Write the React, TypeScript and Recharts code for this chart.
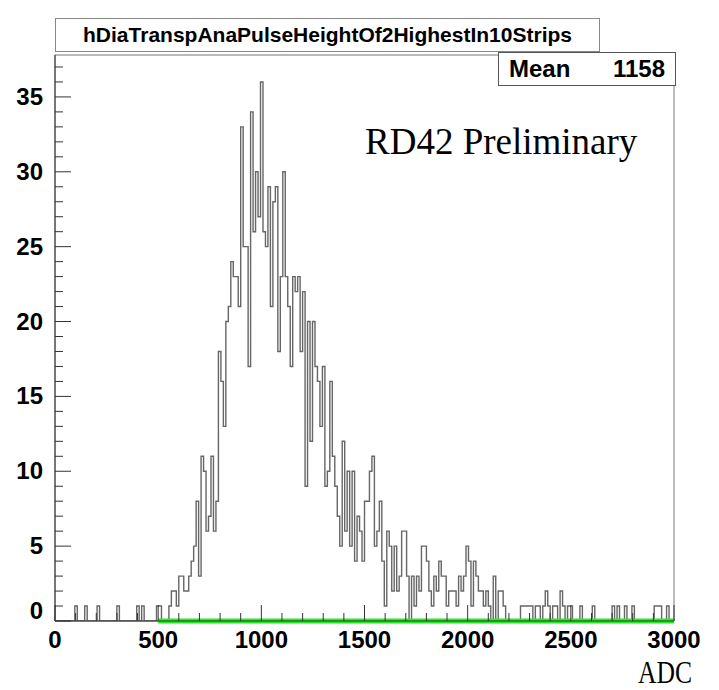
import React from "react";
import { ComposedChart, Line, XAxis, YAxis, ReferenceLine, ReferenceArea } from "recharts";

// histogram: 250 bins of 12 ADC counts from 0 to 3000
const binWidth = 12;
const binCounts = [
  0, 0, 0, 0, 0, 0, 0, 0, 1, 0,
  0, 0, 1, 0, 0, 0, 0, 1, 0, 0,
  0, 0, 0, 0, 0, 1, 0, 0, 0, 0,
  0, 0, 0, 1, 0, 1, 0, 0, 0, 0,
  0, 1, 1, 0, 0, 0, 1, 2, 2, 1,
  3, 3, 2, 2, 3, 4, 5, 8, 3, 11,
  10, 6, 7, 11, 6, 8, 18, 16, 13, 20,
  21, 24, 23, 23, 21, 33, 25, 25, 17, 34,
  26, 30, 27, 36, 26, 25, 29, 21, 28, 29,
  18, 23, 30, 23, 21, 17, 23, 22, 23, 18,
  22, 9, 20, 12, 20, 17, 16, 13, 17, 9,
  10, 16, 11, 9, 7, 5, 12, 6, 10, 5,
  10, 4, 7, 6, 4, 8, 8, 10, 11, 5,
  6, 8, 4, 1, 6, 5, 2, 5, 2, 3,
  6, 6, 3, 0, 3, 1, 3, 2, 5, 5,
  4, 2, 1, 3, 2, 4, 3, 3, 1, 2,
  2, 2, 1, 3, 2, 3, 5, 4, 1, 4,
  3, 2, 2, 1, 2, 1, 0, 3, 0, 2,
  2, 1, 0, 0, 0, 0, 0, 0, 1, 1,
  1, 1, 1, 0, 1, 1, 0, 1, 2, 1,
  0, 1, 1, 0, 2, 1, 0, 1, 1, 0,
  0, 0, 1, 0, 0, 0, 0, 1, 0, 0,
  0, 0, 0, 0, 0, 1, 0, 1, 0, 0,
  1, 0, 0, 1, 0, 0, 0, 0, 0, 0,
  0, 0, 1, 1, 1, 0, 0, 1, 0, 0,
];

const xRange = [0, 3000];
const yMax = 37.8;
const xMajorTicks = [0, 500, 1000, 1500, 2000, 2500, 3000];
const yMajorTicks = [0, 5, 10, 15, 20, 25, 30, 35];
const xAllTicks = Array.from({ length: 31 }, (_, i) => i * 100);
const yAllTicks = Array.from({ length: 38 }, (_, i) => i);
const fitRange = [500, 3000];

const histData = binCounts.map((c, i) => ({ adc: i * binWidth, count: c }));
histData.push({ adc: xRange[1], count: binCounts[binCounts.length - 1] });

const labelFont = '"Liberation Sans", Arial, sans-serif';
const serif = '"Liberation Serif", "Times New Roman", serif';

function XTick({ x, y, payload }: any) {
  const major = xMajorTicks.includes(payload.value);
  return (
    <g>
      <line x1={x} x2={x} y1={y} y2={y - (major ? 16 : 8)} stroke="#333" />
      {major && (
        <text x={x} y={y + 27} textAnchor="middle" fontFamily={labelFont} fontWeight="bold" fontSize={24} fill="#000">
          {payload.value}
        </text>
      )}
    </g>
  );
}

function YTick({ x, y, payload }: any) {
  const major = yMajorTicks.includes(payload.value);
  return (
    <g>
      <line x1={x} x2={x + (major ? 16 : 8)} y1={y} y2={y} stroke="#333" />
      {major && (
        <text x={x - 12} y={payload.value === 0 ? y - 2 : y + 8} textAnchor="end" fontFamily={labelFont} fontWeight="bold" fontSize={24} fill="#000">
          {payload.value}
        </text>
      )}
    </g>
  );
}

export default function App() {
  return (
    <div style={{ position: "absolute", left: 0, top: 0, width: 719, height: 690, background: "#fff", fontFamily: labelFont }}>
      <ComposedChart width={719} height={690} data={histData} margin={{ top: 55, right: 45, bottom: 40, left: 0 }}>
        <XAxis
          dataKey="adc"
          type="number"
          domain={xRange}
          ticks={xAllTicks}
          interval={0}
          tickSize={0}
          tickMargin={0}
          tickLine={false}
          tick={(p: any) => <XTick {...p} />}
          axisLine={{ stroke: "#333" }}
          height={29}
          allowDataOverflow
        />
        <YAxis
          type="number"
          domain={[0, yMax]}
          ticks={yAllTicks}
          interval={0}
          tickSize={0}
          tickMargin={0}
          tickLine={false}
          tick={(p: any) => <YTick {...p} />}
          axisLine={{ stroke: "#333" }}
          width={55}
          allowDataOverflow
        />
        <ReferenceArea x1={xRange[0]} x2={xRange[1]} y1={0} y2={yMax} fill="none" stroke="#777" />
        <Line type="stepAfter" dataKey="count" stroke="#666" strokeWidth={1.4} dot={false} isAnimationActive={false} />
        <ReferenceLine segment={[{ x: fitRange[0], y: 0 }, { x: fitRange[1], y: 0 }]} stroke="#22ee22" strokeWidth={5} />
      </ComposedChart>

      <div style={{ position: "absolute", left: 55, top: 18, width: 545, height: 34, boxSizing: "border-box", border: "1px solid #888", background: "#fff", display: "flex", alignItems: "center", justifyContent: "center", fontWeight: "bold", fontSize: 21, whiteSpace: "nowrap" }}>
        hDiaTranspAnaPulseHeightOf2HighestIn10Strips
      </div>
      <div style={{ position: "absolute", left: 498, top: 52, width: 178, height: 34, boxSizing: "border-box", border: "1px solid #555", background: "#fff", display: "flex", alignItems: "center", justifyContent: "space-between", padding: "0 10px", fontWeight: "bold", fontSize: 24 }}>
        <span>Mean</span>
        <span>1158</span>
      </div>
      <div style={{ position: "absolute", left: 365, top: 120, fontFamily: serif, fontSize: 37, whiteSpace: "nowrap" }}>
        RD42 Preliminary
      </div>
      <div style={{ position: "absolute", left: 638, top: 654, fontFamily: serif, fontSize: 32, transform: "scaleX(0.8)", transformOrigin: "left center" }}>
        ADC
      </div>
    </div>
  );
}
